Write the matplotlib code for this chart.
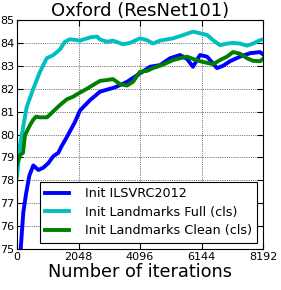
import matplotlib
matplotlib.use("Agg")
import matplotlib.pyplot as plt

iters_blue = [0, 123, 210, 300, 410, 543, 710, 876, 1042, 1209, 1375, 1490, 1665, 1931, 2098, 2431, 2764, 3263, 3663, 4096, 4429, 4762, 5095, 5428, 5661, 5861, 6094, 6327, 6660, 6860, 7093, 7426, 7759, 8092, 8192]
vals_blue = [72.5, 75.0, 76.6, 77.4, 78.2, 78.65, 78.45, 78.55, 78.75, 79.05, 79.2, 79.5, 79.9, 80.55, 81.05, 81.5, 81.87, 82.06, 82.3, 82.67, 82.96, 83.03, 83.33, 83.47, 83.3, 82.96, 83.47, 83.4, 82.9, 83.0, 83.2, 83.4, 83.55, 83.6, 83.5]

iters_cyan = [0, 100, 323, 543, 766, 989, 1209, 1432, 1598, 1765, 2098, 2431, 2664, 2764, 2997, 3197, 3530, 3763, 4096, 4329, 4529, 4762, 5195, 5528, 5861, 6094, 6327, 6527, 6760, 6993, 7193, 7426, 7659, 7859, 8092, 8192]
vals_cyan = [78.16, 79.54, 81.2, 82.0, 82.74, 83.33, 83.47, 83.72, 84.05, 84.16, 84.1, 84.24, 84.28, 84.15, 84.05, 84.1, 83.94, 84.0, 84.2, 84.12, 83.97, 84.1, 84.2, 84.34, 84.49, 84.42, 84.35, 84.12, 83.9, 83.97, 84.0, 83.97, 83.88, 83.97, 84.12, 84.15]

iters_green = [0, 100, 200, 266, 433, 533, 633, 766, 999, 1199, 1432, 1665, 1865, 2098, 2331, 2531, 2764, 2997, 3197, 3430, 3663, 3863, 4096, 4329, 4529, 4762, 4995, 5195, 5428, 5661, 5861, 6094, 6327, 6527, 6760, 6993, 7193, 7426, 7659, 7859, 8092, 8192]
vals_green = [78.7, 79.1, 79.2, 79.98, 80.41, 80.63, 80.78, 80.75, 80.75, 81.0, 81.29, 81.54, 81.65, 81.83, 82.0, 82.16, 82.34, 82.38, 82.42, 82.2, 82.14, 82.3, 82.74, 82.78, 82.9, 83.0, 83.13, 83.25, 83.33, 83.4, 83.3, 83.2, 83.13, 83.07, 83.25, 83.4, 83.6, 83.53, 83.33, 83.22, 83.2, 83.3]

labels = ["Init ILSVRC2012", "Init Landmarks Full (cls)", "Init Landmarks Clean (cls)"]
xticks = [0, 2048, 4096, 6144, 8192]
yticks = [75, 76, 77, 78, 79, 80, 81, 82, 83, 84, 85]

fig = plt.figure(figsize=(2.81, 2.90), dpi=100)
ax = fig.add_axes([0.0605, 0.1414, 0.8755, 0.7896])
ax.plot(iters_blue, vals_blue, color="#0000ff", lw=2.8, label=labels[0])
ax.plot(iters_cyan, vals_cyan, color="#00bfbf", lw=2.8, label=labels[1])
ax.plot(iters_green, vals_green, color="#008000", lw=2.8, label=labels[2])
ax.set_xlim(0, 8192)
ax.set_ylim(75, 85)
ax.set_xticks(xticks)
ax.set_yticks(yticks)
ax.tick_params(direction="in", labelsize=8, top=True, right=True, length=4, pad=2)
ax.grid(True, color="k", linestyle=":", lw=0.5)
ax.set_title("Oxford (ResNet101)", fontsize=13, pad=3)
ax.set_xlabel("Number of iterations", fontsize=12.8, labelpad=1)
leg = ax.legend(loc="lower right", fontsize=9.2, fancybox=False, framealpha=1,
                edgecolor="k", handlelength=1.9, handletextpad=1.2,
                borderaxespad=0.5, labelspacing=0.45, borderpad=0.4)
leg.get_frame().set_linewidth(0.8)
fig.savefig("out.png", dpi=100)
